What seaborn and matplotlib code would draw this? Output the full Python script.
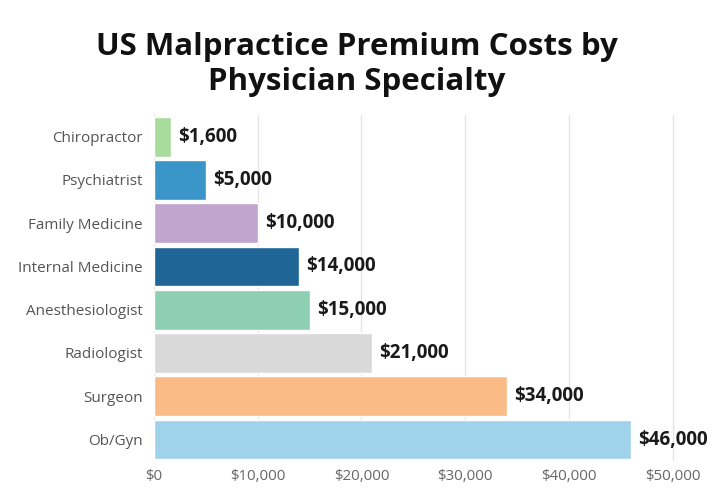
import matplotlib
matplotlib.use("Agg")
import matplotlib.pyplot as plt
import seaborn as sns
import pandas as pd

# data
specialties = ["Chiropractor", "Psychiatrist", "Family Medicine", "Internal Medicine",
               "Anesthesiologist", "Radiologist", "Surgeon", "Ob/Gyn"]
premiums = [1600, 5000, 10000, 14000, 15000, 21000, 34000, 46000]
colors = ["#a8dc9c", "#3a96c8", "#c2a5cf", "#1f6696",
          "#8ecfb4", "#d9d9d9", "#fbbb87", "#a0d3eb"]
ticks = [0, 10000, 20000, 30000, 40000, 50000]

df = pd.DataFrame({"specialty": specialties, "premium": premiums})

sns.set_theme(style="whitegrid")
plt.rcParams["font.family"] = ["Open Sans", "DejaVu Sans"]

fig = plt.figure(figsize=(7.2, 4.98), dpi=100)
ax = fig.add_axes([0.214, 0.074, 0.749, 0.695])

sns.barplot(data=df, x="premium", y="specialty", hue="specialty",
            palette=colors, saturation=1, legend=False, width=0.92, ax=ax)

for i, v in enumerate(premiums):
    ax.text(v + 700, i, f"${v:,}", va="center", ha="left",
            fontsize=13.5, fontweight="bold", color="#1a1a1a")

ax.set_xlim(0, 52000)
ax.set_xticks(ticks)
ax.set_xticklabels([f"${t:,}" for t in ticks])
ax.set_xlabel("")
ax.set_ylabel("")
ax.tick_params(axis="x", colors="#666666", labelsize=10.8, length=0, pad=6)
ax.tick_params(axis="y", colors="#555555", labelsize=11, length=0, pad=8)
ax.grid(axis="x", color="#e6e6e6", linewidth=1)
ax.grid(axis="y", visible=False)
for s in ax.spines.values():
    s.set_visible(False)

fig.suptitle("US Malpractice Premium Costs by\nPhysician Specialty",
             x=0.495, y=0.935, fontsize=22.5, fontweight="bold",
             color="#111111", linespacing=1.2)

fig.savefig("out.png", dpi=100)
